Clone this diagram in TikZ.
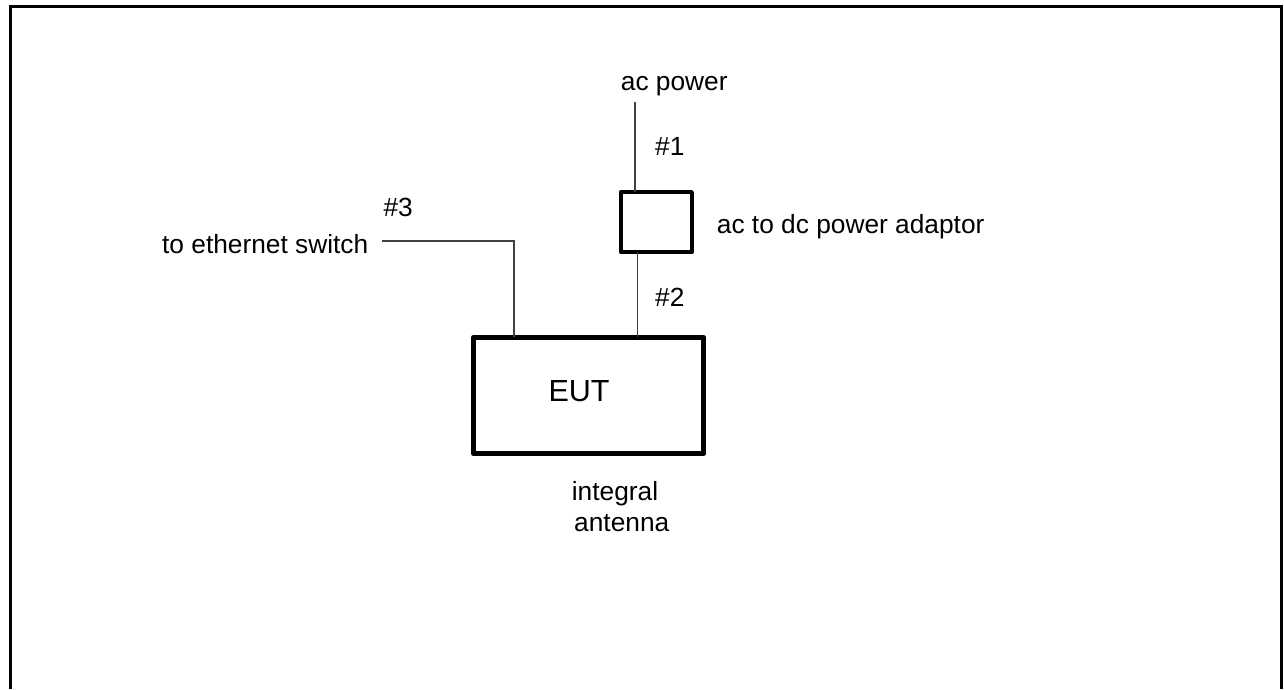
\documentclass[tikz,border=0pt]{standalone}
\usepackage{fontspec}
\setmainfont{Liberation Sans}
\begin{document}
\begin{tikzpicture}[x=1pt,y=-1pt,
  frameline/.style={line width=3pt,black},
  thickbox/.style={draw,line width=4.5pt,rectangle,inner sep=0pt,outer sep=0pt,line join=round},
  cable/.style={line width=1.3pt,black!75},
  lbl/.style={inner sep=0pt,font=\fontsize{26.3}{31}\selectfont},
  biglbl/.style={inner sep=0pt,font=\fontsize{30.5}{36}\selectfont}]
\useasboundingbox (0,0) rectangle (1284,689);
\draw[frameline] (10.5,689) -- (10.5,6.5) -- (1281.5,6.5) -- (1281.5,689);
\node[thickbox,minimum width=70.7pt,minimum height=60pt] (adaptor) at (656.4,222.2) {};
\node[thickbox,minimum width=230.4pt,minimum height=116.4pt] (eut) at (588.5,395.5) {};
\node[biglbl,anchor=base west] (euttxt) at (548.3,401.7) {EUT};
\coordinate (acp) at (635,102);
\coordinate (c2) at (637.7,300);
\coordinate (sw) at (381.7,241);
\coordinate (c3) at (514,241);
\draw[cable] (acp) -- (acp |- adaptor.north);
\draw[cable] (c2 |- adaptor.south) -- (c2 |- eut.north);
\draw[cable] (sw) -- (c3) -- (c3 |- eut.north);
\node[lbl,anchor=base west] (acpower) at (620.7,90) {ac power};
\node[lbl,anchor=base west] (n1) at (655,155) {\#1};
\node[lbl,anchor=base west] (n2) at (655,306.7) {\#2};
\node[lbl,anchor=base west] (n3) at (383.3,216.7) {\#3};
\node[lbl,anchor=base west] (adtxt) at (716.7,233.3) {ac to dc power adaptor};
\node[lbl,anchor=base east] (swtxt) at (368.5,253.3) {to ethernet switch};
\node[lbl,anchor=base west] (integral) at (571.7,500) {integral};
\node[lbl,anchor=base west] (antenna) at (574,531.7) {antenna};
\end{tikzpicture}
\end{document}
